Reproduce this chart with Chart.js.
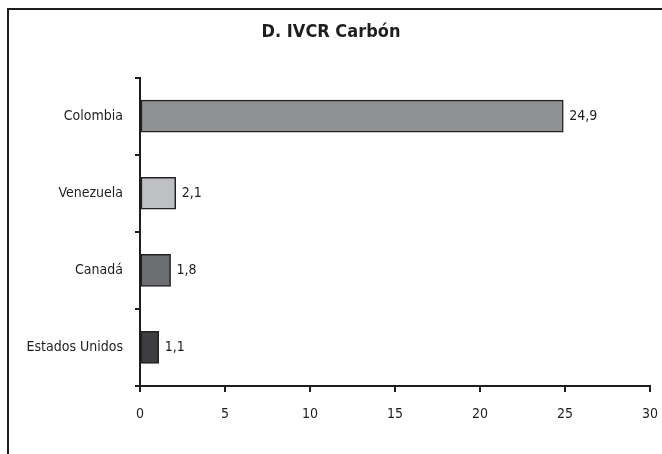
<!DOCTYPE html>
<html>
<head>
<meta charset="utf-8">
<script src="https://cdn.jsdelivr.net/npm/chart.js@4/dist/chart.umd.min.js"></script>
<style>
  html, body { margin: 0; padding: 0; background: #ffffff; }
  #wrap { position: relative; width: 662px; height: 454px; }
</style>
</head>
<body>
<div id="wrap"><canvas id="c" width="662" height="454"></canvas></div>
<script>
// Índice de ventaja comparativa revelada (IVCR) del carbón, por país
const countries = ['Colombia', 'Venezuela', 'Canadá', 'Estados Unidos'];
const ivcr = [24.9, 2.1, 1.8, 1.1];
const barColors = ['#8f9094', '#bfc0c4', '#6d6e71', '#3e3e40'];
const xTicks = [0, 5, 10, 15, 20, 25, 30];
const chartTitle = 'D. IVCR Carbón';

const FONT = '"Liberation Sans Narrow", "DejaVu Sans Condensed", "Arial Narrow", sans-serif';
const INK = '#1e1e1e';

const fmt = v => v.toFixed(1).replace('.', ',');

// Marco del gráfico: trazos izquierdo y superior
const framePlugin = {
  id: 'frame',
  beforeDraw(chart) {
    const ctx = chart.ctx;
    ctx.save();
    ctx.strokeStyle = INK;
    ctx.lineWidth = 2;
    ctx.beginPath();
    ctx.moveTo(8, chart.height);
    ctx.lineTo(8, 9);
    ctx.lineTo(chart.width, 9);
    ctx.stroke();
    ctx.restore();
  }
};

// Valor de cada barra escrito a su derecha
const valueLabels = {
  id: 'valueLabels',
  afterDatasetsDraw(chart) {
    const ctx = chart.ctx;
    const meta = chart.getDatasetMeta(0);
    ctx.save();
    ctx.font = '14px ' + FONT;
    ctx.fillStyle = INK;
    ctx.textAlign = 'left';
    ctx.textBaseline = 'middle';
    meta.data.forEach((bar, i) => {
      ctx.fillText(fmt(ivcr[i]), bar.x + 6, bar.y);
    });
    ctx.restore();
  }
};

new Chart(document.getElementById('c'), {
  type: 'bar',
  data: {
    labels: countries,
    datasets: [{
      data: ivcr,
      backgroundColor: barColors,
      borderColor: '#222222',
      borderWidth: 1.5,
      borderSkipped: false,
      barThickness: 32
    }]
  },
  options: {
    indexAxis: 'y',
    responsive: false,
    animation: false,
    devicePixelRatio: 1,
    layout: { padding: { top: 0, right: 12, bottom: 0, left: 12 } },
    plugins: {
      legend: { display: false },
      tooltip: { enabled: false },
      title: {
        display: true,
        text: chartTitle,
        color: INK,
        font: { family: FONT, size: 18, weight: 'bold', lineHeight: 1.2 },
        padding: { top: 22, bottom: 34 }
      }
    },
    scales: {
      x: {
        min: 0,
        max: 30,
        afterBuildTicks(scale) { scale.ticks = xTicks.map(v => ({ value: v })); },
        afterFit(scale) {
          scale.height = 68;
          scale.paddingLeft = 0;
          scale.paddingRight = 0;
        },
        border: { display: true, color: INK, width: 2 },
        grid: { display: true, drawOnChartArea: false, drawTicks: true, tickLength: 6, color: INK, lineWidth: 2 },
        ticks: { color: INK, font: { family: FONT, size: 14 }, padding: 14, maxRotation: 0 }
      },
      y: {
        afterFit(scale) { scale.width = 128; },
        border: { display: true, color: INK, width: 2 },
        grid: { display: true, drawOnChartArea: false, drawTicks: true, tickLength: 5, color: INK, lineWidth: 2, offset: true },
        ticks: { color: INK, font: { family: FONT, size: 14 }, padding: 12 }
      }
    }
  },
  plugins: [framePlugin, valueLabels]
});
</script>
</body>
</html>
